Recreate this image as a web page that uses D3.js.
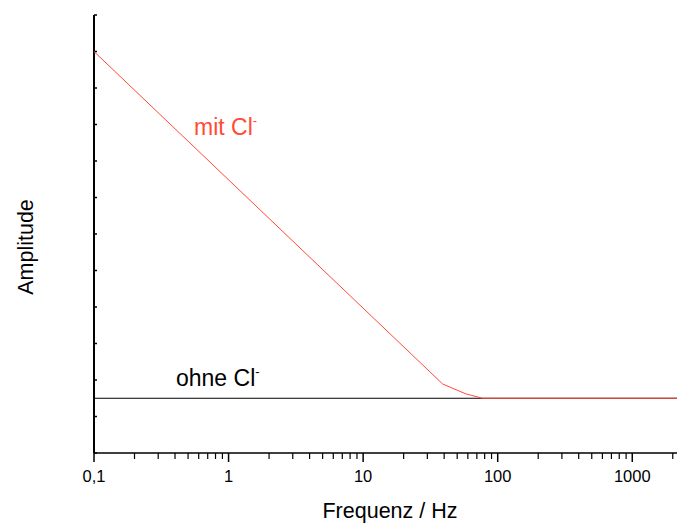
<!DOCTYPE html>
<html>
<head>
<meta charset="utf-8">
<script src="https://cdn.jsdelivr.net/npm/d3@7.9.0/dist/d3.min.js"></script>
<style>
  body { margin: 0; background: #fff; }
  svg { display: block; font-family: Arial, "Liberation Sans", sans-serif; }
</style>
</head>
<body>
<div id="chart"></div>
<script>
const width = 677;
const height = 525;

// frequency (Hz) vs amplitude (arbitrary units)
const mitFreq = [0.1, 39, 58, 77, 2150];
const mitAmp = [11, 1.89, 1.62, 1.5, 1.5];
const ohneFreq = [0.1, 2150];
const ohneAmp = [1.5, 1.5];
const xTickValues = [0.1, 1, 10, 100, 1000];
const xTickLabels = ['0,1', '1', '10', '100', '1000'];
const yTicks = d3.range(0, 13);

const margin = { top: 15, right: 0, bottom: 72, left: 94 };

const x = d3.scaleLog()
  .domain([0.1, 2150])
  .range([margin.left, width - margin.right]);

const y = d3.scaleLinear()
  .domain([0, 12])
  .range([height - margin.bottom, margin.top]);

const svg = d3.select('#chart').append('svg')
  .attr('width', width)
  .attr('height', height);

// minor x ticks
const minor = [];
for (let e = -1; e <= 3; e++) {
  for (let m = 2; m <= 9; m++) {
    const v = m * Math.pow(10, e);
    if (v <= 2150) minor.push(v);
  }
}

const xAxisG = svg.append('g')
  .attr('transform', `translate(0,${y(0)})`);

xAxisG.selectAll('line.minor')
  .data(minor)
  .enter()
  .append('line')
  .attr('x1', d => x(d))
  .attr('x2', d => x(d))
  .attr('y1', 0)
  .attr('y2', 6)
  .attr('stroke', '#000')
  .attr('stroke-width', 1.2);

xAxisG.selectAll('line.major')
  .data(xTickValues)
  .enter()
  .append('line')
  .attr('x1', d => x(d))
  .attr('x2', d => x(d))
  .attr('y1', 0)
  .attr('y2', 9)
  .attr('stroke', '#000')
  .attr('stroke-width', 1.5);

xAxisG.selectAll('text')
  .data(xTickValues)
  .enter()
  .append('text')
  .attr('x', d => x(d))
  .attr('y', 29)
  .attr('text-anchor', 'middle')
  .attr('font-size', 16.5)
  .text((d, i) => xTickLabels[i]);

xAxisG.append('line')
  .attr('x1', margin.left)
  .attr('x2', width)
  .attr('stroke', '#000')
  .attr('stroke-width', 1.5);

// y axis with small inward ticks, no labels
const yAxisG = svg.append('g');

yAxisG.selectAll('line.tick')
  .data(yTicks)
  .enter()
  .append('line')
  .attr('x1', margin.left)
  .attr('x2', margin.left + 3)
  .attr('y1', d => y(d))
  .attr('y2', d => y(d))
  .attr('stroke', '#000')
  .attr('stroke-width', 1.5);

yAxisG.append('line')
  .attr('x1', margin.left)
  .attr('x2', margin.left)
  .attr('y1', y(12))
  .attr('y2', y(0))
  .attr('stroke', '#000')
  .attr('stroke-width', 2);

const line = d3.line()
  .x(d => x(d[0]))
  .y(d => y(d[1]));

svg.append('path')
  .datum(ohneFreq.map((f, i) => [f, ohneAmp[i]]))
  .attr('d', line)
  .attr('fill', 'none')
  .attr('stroke', '#000')
  .attr('stroke-width', 1);

svg.append('path')
  .datum(mitFreq.map((f, i) => [f, mitAmp[i]]))
  .attr('d', line)
  .attr('fill', 'none')
  .attr('stroke', '#ff4b36')
  .attr('stroke-width', 1);

// labels
const mitLabel = svg.append('text')
  .attr('x', 194)
  .attr('y', 135)
  .attr('font-size', 23)
  .attr('fill', '#ff4b36');
mitLabel.append('tspan').text('mit Cl');
mitLabel.append('tspan').attr('dy', -10).attr('font-size', 13).text('-');

const ohneLabel = svg.append('text')
  .attr('x', 176)
  .attr('y', 386)
  .attr('font-size', 23)
  .attr('fill', '#000');
ohneLabel.append('tspan').text('ohne Cl');
ohneLabel.append('tspan').attr('dy', -10).attr('font-size', 13).text('-');

svg.append('text')
  .attr('x', 390)
  .attr('y', 518)
  .attr('text-anchor', 'middle')
  .attr('font-size', 21.5)
  .text('Frequenz / Hz');

svg.append('text')
  .attr('transform', 'translate(33,247) rotate(-90)')
  .attr('text-anchor', 'middle')
  .attr('font-size', 21.5)
  .text('Amplitude');
</script>
</body>
</html>
